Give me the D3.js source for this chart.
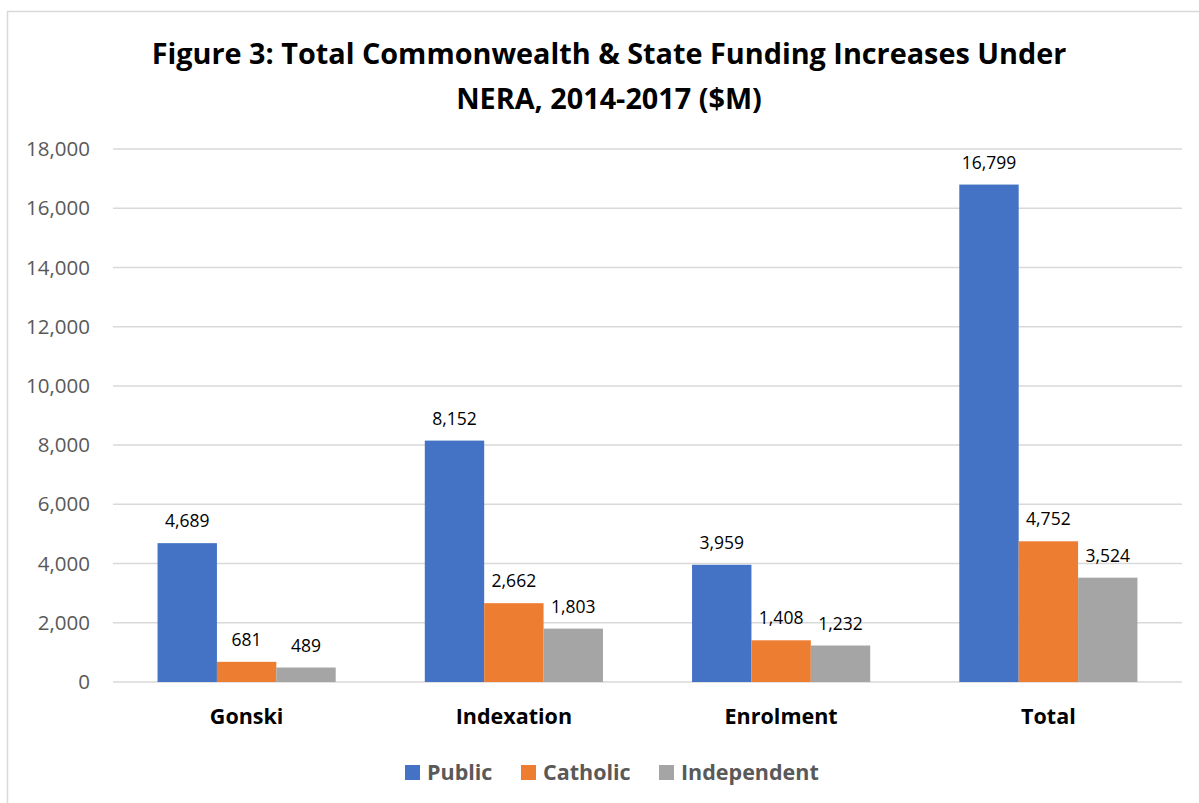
<!DOCTYPE html>
<html>
<head>
<meta charset="utf-8">
<script src="https://cdn.jsdelivr.net/npm/d3@7"></script>
<style>
  body { margin: 0; background: #fff; }
  text { font-family: "Open Sans", sans-serif; }
</style>
</head>
<body>
<script>
var categories = ["Gonski", "Indexation", "Enrolment", "Total"];
var seriesNames = ["Public", "Catholic", "Independent"];
var publicVals = [4689, 8152, 3959, 16799];
var catholicVals = [681, 2662, 1408, 4752];
var independentVals = [489, 1803, 1232, 3524];
var yTicks = [0, 2000, 4000, 6000, 8000, 10000, 12000, 14000, 16000, 18000];
var colors = ["#4472c4", "#ed7d31", "#a5a5a5"];

var allSeries = [publicVals, catholicVals, independentVals];

var svgWidth = 1199;
var svgHeight = 803;
var plotLeft = 113, plotRight = 1182, plotTop = 149, plotBottom = 682;

var svg = d3.select("body")
            .append("svg")
            .attr("width", svgWidth)
            .attr("height", svgHeight);

// chart border
svg.append("rect")
   .attr("x", 7.5).attr("y", 11.5)
   .attr("width", 1300).attr("height", 900)
   .attr("fill", "none")
   .attr("stroke", "#d9d9d9")
   .attr("stroke-width", 1.5);

// title
var title = svg.append("text")
   .attr("text-anchor", "middle")
   .attr("font-weight", "bold")
   .attr("font-size", "28.8px")
   .attr("fill", "#000");
title.append("tspan").attr("x", 609).attr("y", 64)
     .text("Figure 3: Total Commonwealth & State Funding Increases Under");
title.append("tspan").attr("x", 609).attr("y", 109)
     .text("NERA, 2014-2017 ($M)");

var x0 = d3.scaleBand()
           .domain(categories)
           .range([plotLeft, plotRight]);

var x1 = d3.scaleBand()
           .domain(d3.range(3))
           .range([0, x0.bandwidth() * 3 / 4.5])
           .paddingInner(0);

var y = d3.scaleLinear()
          .domain([0, 18000])
          .range([plotBottom, plotTop]);

// gridlines
svg.append("g")
   .selectAll("line")
   .data(yTicks)
   .enter()
   .append("line")
   .attr("x1", plotLeft).attr("x2", plotRight)
   .attr("y1", (d)=> y(d)).attr("y2", (d)=> y(d))
   .attr("stroke", "#d9d9d9")
   .attr("stroke-width", 1.5);

// y axis labels
var yAxis = d3.axisLeft(y)
              .tickValues(yTicks)
              .tickFormat(d3.format(","))
              .tickSize(0)
              .tickPadding(0);

var yg = svg.append("g")
   .attr("transform", "translate(90,0)")
   .call(yAxis);
yg.select(".domain").remove();
yg.selectAll("text")
  .attr("font-family", "Open Sans, sans-serif")
  .attr("font-size", "20.5px")
  .attr("fill", "#595959");

// bars
var groupOffset = x0.bandwidth() * 0.75 / 4.5;
var groups = svg.selectAll("g.cat")
   .data(categories)
   .enter()
   .append("g")
   .attr("class", "cat")
   .attr("transform", (d)=> "translate(" + (x0(d) + groupOffset) + ",0)");

groups.selectAll("rect")
   .data((d, i)=> allSeries.map((s, j)=> ({ s: j, v: s[i] })))
   .enter()
   .append("rect")
   .attr("x", (d)=> x1(d.s))
   .attr("y", (d)=> y(d.v))
   .attr("width", x1.bandwidth())
   .attr("height", (d)=> y(0) - y(d.v))
   .attr("fill", (d)=> colors[d.s]);

groups.selectAll("text")
   .data((d, i)=> allSeries.map((s, j)=> ({ s: j, v: s[i] })))
   .enter()
   .append("text")
   .text((d)=> d3.format(",")(d.v))
   .attr("x", (d)=> x1(d.s) + x1.bandwidth() / 2)
   .attr("y", (d)=> y(d.v) - 16)
   .attr("text-anchor", "middle")
   .attr("font-size", "17.5px")
   .attr("fill", "#000");

// category labels
var xAxis = d3.axisBottom(x0).tickSize(0).tickPadding(0);
var xg = svg.append("g")
   .attr("transform", "translate(0,709)")
   .call(xAxis);
xg.select(".domain").remove();
xg.selectAll("text")
  .attr("font-family", "Open Sans, sans-serif")
  .attr("font-size", "21.5px")
  .attr("font-weight", "bold")
  .attr("fill", "#000");

// legend
var legendX = [405, 521, 659];
var legend = svg.selectAll("g.legend")
   .data(seriesNames)
   .enter()
   .append("g")
   .attr("class", "legend")
   .attr("transform", (d, i)=> "translate(" + legendX[i] + ",765)");
legend.append("rect")
   .attr("width", 15).attr("height", 15)
   .attr("fill", (d, i)=> colors[i]);
legend.append("text")
   .attr("x", 22).attr("y", 15)
   .attr("font-size", "21.5px")
   .attr("font-weight", "bold")
   .attr("fill", "#595959")
   .text((d)=> d);
</script>
</body>
</html>
